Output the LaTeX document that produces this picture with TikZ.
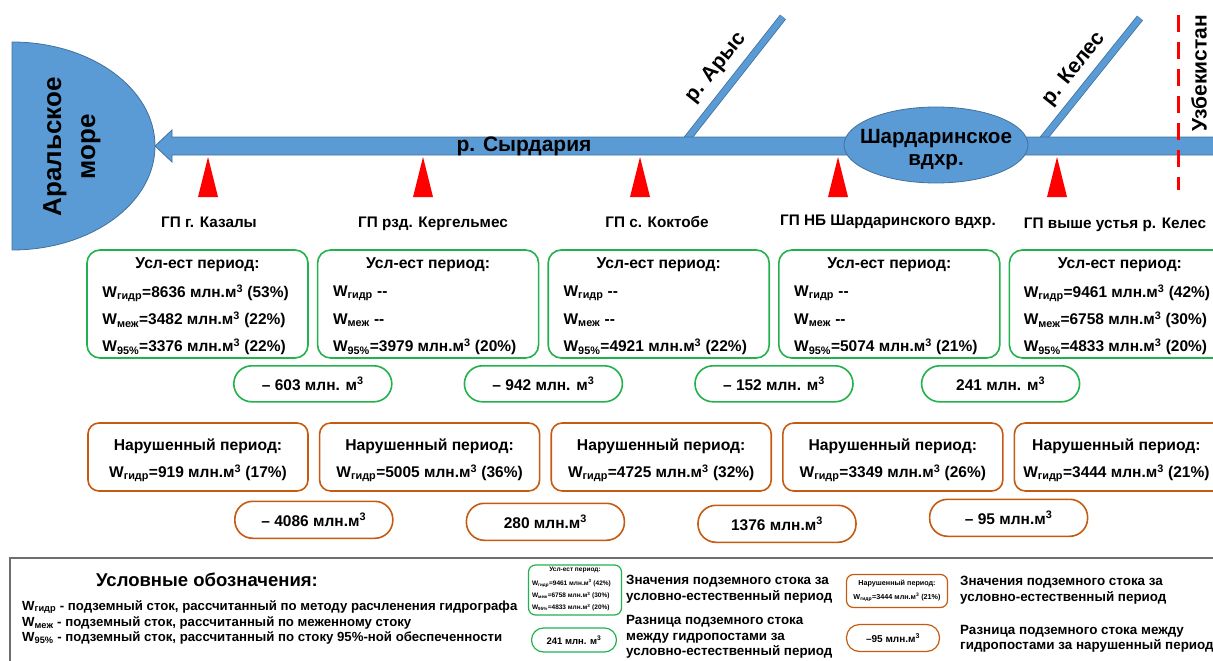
\documentclass[tikz,border=0pt]{standalone}
\usepackage{fontspec}
\setmainfont{Liberation Sans}
\usepackage{xcolor}
\usetikzlibrary{arrows.meta,positioning,calc,shapes.geometric}

\definecolor{riverblue}{HTML}{5B9BD5}
\definecolor{riveredge}{HTML}{41719C}
\definecolor{natgreen}{HTML}{22B14C}
\definecolor{disorange}{HTML}{C55A11}
\definecolor{framegray}{HTML}{6E6E6E}

\newcommand{\Wg}{W\textsubscript{гидр}}
\newcommand{\Wm}{W\textsubscript{меж}}
\newcommand{\Wp}{W\textsubscript{95\%}}
\newcommand{\cub}{\textsuperscript{3}}

\begin{document}
\begin{tikzpicture}[x=1pt, y=-1pt, node distance=8pt, >=Latex]
\useasboundingbox (0,0) rectangle (1213,661);

% Styles
\tikzstyle{natbox} = [rectangle, draw=natgreen, line width=1.6pt, rounded corners=13pt, minimum width=221pt, minimum height=108pt, inner sep=0pt]
\tikzstyle{disbox} = [rectangle, draw=disorange, line width=1.6pt, rounded corners=11pt, minimum width=220pt, minimum height=68pt, inner sep=0pt]
\tikzstyle{natdiff} = [rectangle, draw=natgreen, line width=1.6pt, rounded corners=18pt, minimum width=158pt, minimum height=36pt, font=\bfseries\fontsize{15.5}{17}\selectfont]
\tikzstyle{disdiff} = [rectangle, draw=disorange, line width=1.6pt, rounded corners=18pt, minimum width=158pt, minimum height=37pt, font=\bfseries\fontsize{15.5}{17}\selectfont]
\tikzstyle{boxtitle} = [font=\bfseries\fontsize{15.7}{18}\selectfont, inner sep=0pt]
\tikzstyle{boxtext} = [font=\bfseries\fontsize{15.5}{18}\selectfont, inner sep=0pt]
\tikzstyle{postlabel} = [font=\bfseries\fontsize{15.3}{17}\selectfont, inner sep=0pt, anchor=base]
\tikzstyle{rivertext} = [font=\bfseries\fontsize{21}{24}\selectfont, inner sep=0pt]
\tikzstyle{legtext} = [font=\bfseries\fontsize{13.4}{16.5}\selectfont, align=left, anchor=west, inner sep=0pt]
\tikzstyle{legline} = [font=\bfseries\fontsize{13.2}{15}\selectfont, anchor=west, inner sep=0pt]
\tikzstyle{minitext} = [font=\bfseries\fontsize{6.5}{7}\selectfont, inner sep=0pt]
\tikzstyle{tributary} = [draw=riveredge, double=riverblue, double distance=6pt, line width=0.8pt]

% Aral sea
\fill[riverblue, draw=riveredge, line width=0.8pt] (12,42) arc[start angle=-90, end angle=90, x radius=143, y radius=104] -- cycle;
\node[rotate=90, align=center, font=\bfseries\fontsize{26}{34}\selectfont] (aral) at (72,147) {Аральское\\море};

% Tributaries
\coordinate (arysmouth) at (687,139);
\coordinate (arystop) at (783,17);
\coordinate (kelesmouth) at (1043,139);
\coordinate (kelestop) at (1140,18);
\draw[tributary] (arysmouth) -- (arystop);
\draw[tributary] (kelesmouth) -- (kelestop);
\node[rivertext, rotate=51.3] (arys) at (716,68) {р. Арыс};
\node[rivertext, rotate=51.3] (keles) at (1074,69) {р. Келес};

% Syr Darya
\coordinate (src) at (1225,146);
\coordinate (mouth) at (155,146);
\fill[riverblue, draw=riveredge, line width=0.8pt] ($(src)+(0,-9)$) -- ($(mouth)+(17,-9)$) -- ($(mouth)+(17,-16)$) -- (mouth) -- ($(mouth)+(17,16)$) -- ($(mouth)+(17,9)$) -- ($(src)+(0,9)$) -- cycle;
\node[rivertext] (syr) at (524,146) {р. Сырдария};
\node[ellipse, fill=riverblue, draw=riveredge, line width=0.8pt, minimum width=184pt, minimum height=76pt, inner sep=0pt] (res) at (936,145) {};
\node[align=center, inner sep=0pt, font=\bfseries\fontsize{20.6}{22}\selectfont] (restext) at ($(res.center)+(0,5)$) {Шардаринское\\вдхр.};

% Border
\coordinate (bordtop) at (1178,15);
\coordinate (bordbot) at (1178,190);
\draw[red, line width=3pt, dash pattern=on 17pt off 10pt] (bordtop) -- (bordbot);
\node[rotate=90, font=\bfseries\fontsize{21}{23}\selectfont, inner sep=0pt] (uzb) at (1199,73) {Узбекистан};

% Gauging posts
\foreach \gx in {208,423,640,838,1057}
  \fill[red] (\gx-10,197) -- (\gx,157) -- (\gx+10,197) -- cycle;
\node[postlabel] (p1) at (209,227) {ГП г. Казалы};
\node[postlabel] (p2) at (433,227) {ГП рзд. Кергельмес};
\node[postlabel] (p3) at (657,227) {ГП с. Коктобе};
\node[postlabel] (p4) at (888,225) {ГП НБ Шардаринского вдхр.};
\node[postlabel] (p5) at (1115,228) {ГП выше устья р. Келес};

% Natural period
\node[natbox] (n1) at (197.5,304) {};
\node[natbox, right=of n1] (n2) {};
\node[natbox, right=of n2] (n3) {};
\node[natbox, right=of n3] (n4) {};
\node[natbox, right=of n4] (n5) {};
\foreach \b in {n1,n2,n3,n4,n5}
  \node[boxtitle] at ($(\b.north)+(0,16)$) {Усл-ест период:};
\node[boxtext, anchor=west] at ($(n1.north west)+(16,44)$) {\Wg=8636 млн.м\cub{} (53\%)};
\node[boxtext, anchor=west] at ($(n1.north west)+(16,71)$) {\Wm=3482 млн.м\cub{} (22\%)};
\node[boxtext, anchor=west] at ($(n1.north west)+(16,98)$) {\Wp=3376 млн.м\cub{} (22\%)};
\node[boxtext, anchor=west] at ($(n2.north west)+(16,44)$) {\Wg{} -{}-};
\node[boxtext, anchor=west] at ($(n2.north west)+(16,71)$) {\Wm{} -{}-};
\node[boxtext, anchor=west] at ($(n2.north west)+(16,98)$) {\Wp=3979 млн.м\cub{} (20\%)};
\node[boxtext, anchor=west] at ($(n3.north west)+(16,44)$) {\Wg{} -{}-};
\node[boxtext, anchor=west] at ($(n3.north west)+(16,71)$) {\Wm{} -{}-};
\node[boxtext, anchor=west] at ($(n3.north west)+(16,98)$) {\Wp=4921 млн.м\cub{} (22\%)};
\node[boxtext, anchor=west] at ($(n4.north west)+(16,44)$) {\Wg{} -{}-};
\node[boxtext, anchor=west] at ($(n4.north west)+(16,71)$) {\Wm{} -{}-};
\node[boxtext, anchor=west] at ($(n4.north west)+(16,98)$) {\Wp=5074 млн.м\cub{} (21\%)};
\node[boxtext, anchor=west] at ($(n5.north west)+(15,44)$) {\Wg=9461 млн.м\cub{} (42\%)};
\node[boxtext, anchor=west] at ($(n5.north west)+(15,71)$) {\Wm=6758 млн.м\cub{} (30\%)};
\node[boxtext, anchor=west] at ($(n5.north west)+(15,98)$) {\Wp=4833 млн.м\cub{} (20\%)};

% Natural period differences
\node[natdiff] (g12) at ($(n1.south)!0.5!(n2.south)+(0,25)$) {– 603 млн. м\cub};
\node[natdiff] (g23) at ($(n2.south)!0.5!(n3.south)+(0,25)$) {– 942 млн. м\cub};
\node[natdiff] (g34) at ($(n3.south)!0.5!(n4.south)+(0,25)$) {– 152 млн. м\cub};
\node[natdiff] (g45) at ($(n4.south)!0.5!(n5.south)+(-4,25)$) {241 млн. м\cub};

% Disturbed period
\node[disbox] (d1) at (198,457) {};
\node[disbox, right=10pt of d1] (d2) {};
\node[disbox, right=10pt of d2] (d3) {};
\node[disbox, right=10pt of d3] (d4) {};
\node[disbox, right=10pt of d4] (d5) {};
\foreach \b in {d1,d2,d3,d4}
  \node[boxtitle] at ($(\b.north)+(0,24)$) {Нарушенный период:};
\node[boxtitle] at ($(d5.north)+(-8,24)$) {Нарушенный период:};
\node[boxtext] at ($(d1.north)+(0,51)$) {\Wg=919 млн.м\cub{} (17\%)};
\node[boxtext] at ($(d2.north)+(0,51)$) {\Wg=5005 млн.м\cub{} (36\%)};
\node[boxtext] at ($(d3.north)+(0,51)$) {\Wg=4725 млн.м\cub{} (32\%)};
\node[boxtext] at ($(d4.north)+(0,51)$) {\Wg=3349 млн.м\cub{} (26\%)};
\node[boxtext] at ($(d5.north)+(-8,51)$) {\Wg=3444 млн.м\cub{} (21\%)};

% Disturbed period differences
\node[disdiff] (o12) at ($(d1.south)!0.5!(d2.south)+(0,28)$) {– 4086 млн.м\cub};
\node[disdiff] (o23) at ($(d2.south)!0.5!(d3.south)+(0,30)$) {280 млн.м\cub};
\node[disdiff] (o34) at ($(d3.south)!0.5!(d4.south)+(0,32)$) {1376 млн.м\cub};
\node[disdiff] (o45) at ($(d4.south)!0.5!(d5.south)+(0,26)$) {– 95 млн.м\cub};

% Legend
\draw[framegray, line width=2pt] (10,558) rectangle (1230,680);
\node[font=\bfseries\fontsize{18.5}{22}\selectfont, inner sep=0pt] (legtitle) at (207,580) {Условные обозначения:};
\node[legline] (leg1) at (22,607) {\Wg{} - подземный сток, рассчитанный по методу расчленения гидрографа};
\node[legline] (leg2) at (22,623) {\Wm{} - подземный сток, рассчитанный по меженному стоку};
\node[legline] (leg3) at (22,638) {\Wp{} - подземный сток, рассчитанный по стоку 95\%-ной обеспеченности};

\node[natbox, minimum width=93pt, minimum height=50pt, rounded corners=7pt, line width=1.2pt] (mn) at (575,590) {};
\node[minitext] at ($(mn.north)+(0,6)$) {Усл-ест период:};
\node[minitext, anchor=west] at ($(mn.north west)+(4,19)$) {\Wg=9461 млн.м\cub{} (42\%)};
\node[minitext, anchor=west] at ($(mn.north west)+(4,31)$) {\Wm=6758 млн.м\cub{} (30\%)};
\node[minitext, anchor=west] at ($(mn.north west)+(4,43)$) {\Wp=4833 млн.м\cub{} (20\%)};
\node[natdiff, minimum width=85pt, minimum height=24pt, rounded corners=12pt, line width=1.2pt, font=\bfseries\fontsize{9.5}{10}\selectfont] (mg) at (574,640) {241 млн. м\cub};
\node[legtext] (legnat) at (626,589) {Значения подземного стока за\\условно-естественный период};
\node[legtext, font=\bfseries\fontsize{13.4}{15.5}\selectfont] (legnatdiff) at (626,637) {Разница подземного стока\\между гидропостами за\\условно-естественный период};

\node[disbox, minimum width=101pt, minimum height=33pt, rounded corners=7pt, line width=1.2pt] (md) at (897,591) {};
\node[minitext, font=\bfseries\fontsize{7.2}{8}\selectfont] at ($(md.north)+(0,10)$) {Нарушенный период:};
\node[minitext, font=\bfseries\fontsize{7.2}{8}\selectfont] at ($(md.north)+(0,23)$) {\Wg=3444 млн.м\cub{} (21\%)};
\node[disdiff, minimum width=93pt, minimum height=27pt, rounded corners=13pt, line width=1.2pt, font=\bfseries\fontsize{10}{11}\selectfont] (mo) at (893,638) {–95 млн.м\cub};
\node[legtext] (legdis) at (960,590) {Значения подземного стока за\\условно-естественный период};
\node[legtext, font=\bfseries\fontsize{13.4}{15}\selectfont] (legdisdiff) at (960,639) {Разница подземного стока между\\гидропостами за нарушенный период};

\end{tikzpicture}
\end{document}
